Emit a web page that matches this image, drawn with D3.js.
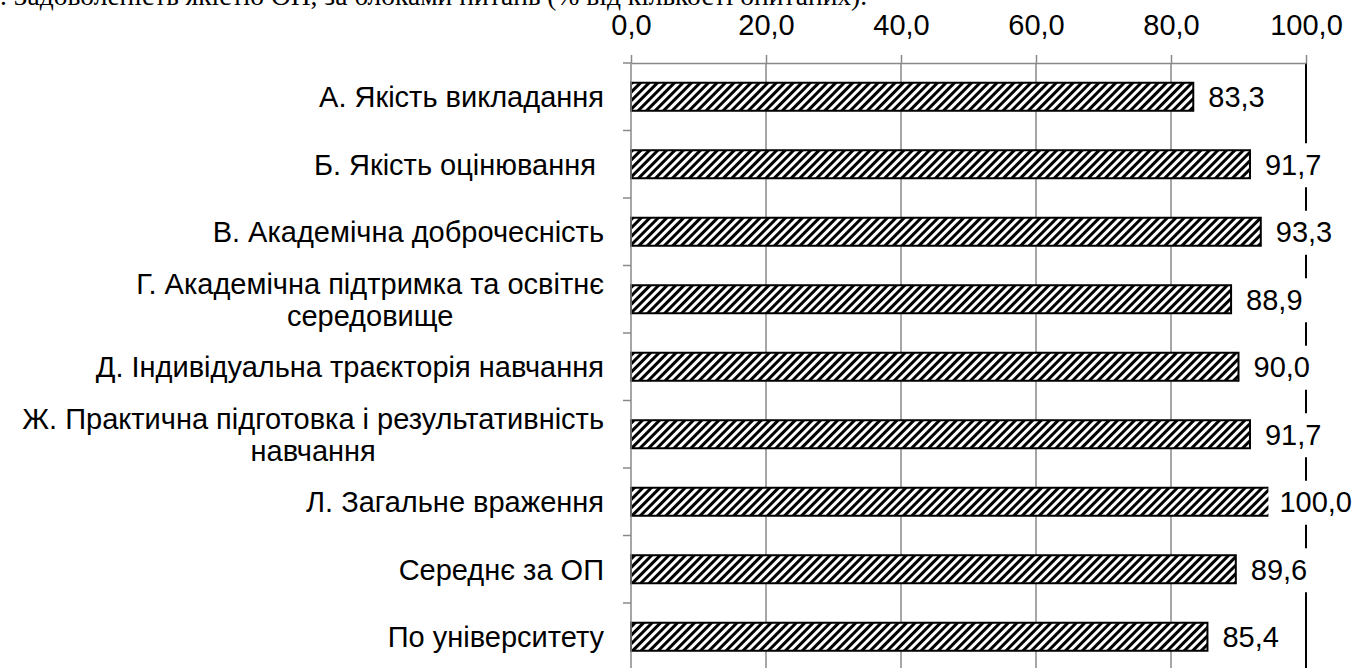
<!doctype html>
<html lang="uk">
<head>
<meta charset="utf-8" />
<title>Задоволеність якістю ОП</title>
<script src="https://d3js.org/d3.v7.min.js"></script>
<style>
  body { margin: 0; background: #fff; }
  svg { display: block; }
  text { font-family: "Liberation Sans", Arial, sans-serif; fill: #000; }
</style>
</head>
<body>
<svg id="chart"></svg>
<script>
// chart data
const titleText = ". Задоволеність якістю ОП, за блоками питань (% від кількості опитаних).";
const categories = [
    "А. Якість викладання",
    "Б. Якість оцінювання ",
    "В. Академічна доброчесність",
    "Г. Академічна підтримка та освітнє\nсередовище",
    "Д. Індивідуальна траєкторія навчання",
    "Ж. Практична підготовка і результативність\nнавчання",
    "Л. Загальне враження",
    "Середнє за ОП",
    "По університету"
];
const values = [83.3, 91.7, 93.3, 88.9, 90.0, 91.7, 100.0, 89.6, 85.4];
const xTicks = [0, 20, 40, 60, 80, 100];

let width = 1370,
    height = 668;

const fmt = v => d3.format(".1f")(v).replace(".", ",");

const svg = d3.select("#chart")
    .attr("width", width)
    .attr("height", height);

// hatch pattern like excel "wide upward diagonal"
const defs = svg.append("defs");
const pat = defs.append("pattern")
    .attr("id", "hatch")
    .attr("patternUnits", "userSpaceOnUse")
    .attr("width", 6)
    .attr("height", 6)
    .attr("patternTransform", "rotate(45)");
pat.append("rect").attr("width", 6).attr("height", 6).attr("fill", "#fff");
pat.append("rect").attr("width", 3).attr("height", 6).attr("fill", "#000");

// title, cut off at the top of the picture
svg.append("text")
    .attr("x", 0)
    .attr("y", 5)
    .style("font-family", "'Liberation Serif', 'Times New Roman', serif")
    .style("font-size", "27.5px")
    .text(titleText);

let x = d3.scaleLinear()
    .domain([0, 100])
    .range([631, 1306]);

let y = d3.scaleBand()
    .domain(categories)
    .range([63, 670.5]);

const barH = y.bandwidth() * 0.415;
const grey = "#898989";

// gridlines
svg.append("g")
    .selectAll("line")
    .data(xTicks.filter(t => t > 0 && t < 100))
    .enter()
    .append("line")
        .attr("x1", d => x(d))
        .attr("x2", d => x(d))
        .attr("y1", y.range()[0])
        .attr("y2", y.range()[1])
        .attr("stroke", grey)
        .attr("stroke-width", 1.5);

// black line at the max value
svg.append("line")
    .attr("x1", x(100))
    .attr("x2", x(100))
    .attr("y1", y.range()[0])
    .attr("y2", y.range()[1])
    .attr("stroke", "#000")
    .attr("stroke-width", 2);

// bars
svg.append("g")
    .selectAll("rect")
    .data(values)
    .enter()
    .append("rect")
        .attr("x", x(0))
        .attr("y", (d, i) => y(categories[i]) + (y.bandwidth() - barH) / 2)
        .attr("width", d => x(d) - x(0))
        .attr("height", barH)
        .attr("fill", "url(#hatch)")
        .attr("stroke", "#000")
        .attr("stroke-width", 2);

// value labels with white boxes
const labelG = svg.append("g");
values.forEach((v, i) => {
    const cy = y(categories[i]) + y.bandwidth() / 2;
    const g = labelG.append("g");
    const box = g.append("rect").attr("fill", "#fff");
    const t = g.append("text")
        .attr("y", cy)
        .attr("dy", "0.36em")
        .style("font-size", "29px")
        .text(fmt(v));
    const w = t.node().getComputedTextLength();
    const tx = Math.min(x(v) + 15, 1352 - w);
    t.attr("x", tx);
    box.attr("x", tx - 11)
        .attr("y", cy - 21)
        .attr("width", w + 17)
        .attr("height", 44);
});

// category labels
const catG = svg.append("g");
categories.forEach(c => {
    const lines = c.split("\n");
    const cy = y(c) + y.bandwidth() / 2;
    const lh = 32;
    const t = catG.append("text")
        .style("font-size", "29px")
        .style("white-space", "pre");
    lines.forEach((ln, j) => {
        t.append("tspan")
            .attr("y", cy + (j - (lines.length - 1) / 2) * lh)
            .attr("dy", "0.36em")
            .text(ln);
    });
    let maxW = 0;
    t.selectAll("tspan").each(function() {
        maxW = Math.max(maxW, this.getComputedTextLength());
    });
    if (lines.length > 1) {
        t.attr("text-anchor", "middle");
        t.selectAll("tspan").attr("x", 604 - maxW / 2);
    } else {
        t.attr("text-anchor", "end");
        t.selectAll("tspan").attr("x", 604);
    }
});

// left axis with ticks between categories
const bounds = categories.map(c => y(c)).concat([y.range()[1]]);
svg.append("line")
    .attr("x1", x(0)).attr("x2", x(0))
    .attr("y1", y.range()[0]).attr("y2", y.range()[1])
    .attr("stroke", grey).attr("stroke-width", 1.5);
svg.append("g")
    .selectAll("line")
    .data(bounds)
    .enter()
    .append("line")
        .attr("x1", x(0) - 8)
        .attr("x2", x(0))
        .attr("y1", d => d)
        .attr("y2", d => d)
        .attr("stroke", grey)
        .attr("stroke-width", 1.5);

// top axis
const xAxis = d3.axisTop(x)
    .tickValues(xTicks)
    .tickFormat(fmt)
    .tickSize(8)
    .tickSizeOuter(0)
    .tickPadding(20);

const ax = svg.append("g")
    .attr("transform", `translate(0,${y.range()[0]})`)
    .call(xAxis);
ax.select(".domain").attr("stroke", grey).attr("stroke-width", 1.5);
ax.selectAll(".tick line").attr("stroke", grey).attr("stroke-width", 1.5);
ax.selectAll(".tick text")
    .style("font-family", "'Liberation Sans', Arial, sans-serif")
    .style("font-size", "29px")
    .attr("fill", "#000");
</script>
</body>
</html>
